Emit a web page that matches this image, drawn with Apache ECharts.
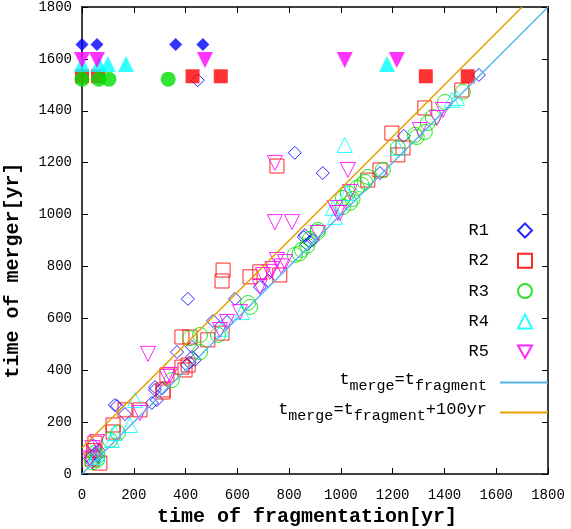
<!DOCTYPE html>
<html><head><meta charset="utf-8">
<script src="https://cdn.jsdelivr.net/npm/echarts@6/dist/echarts.min.js"></script>
<style>html,body{margin:0;padding:0;background:#fff}#c{width:571px;height:529px}</style>
</head><body><div id="c"></div>
<script>
const xTicks = [0,200,400,600,800,1000,1200,1400,1600,1800];
const yTicks = [0,200,400,600,800,1000,1200,1400,1600,1800];
const seriesNames = ['R1','R2','R3','R4','R5'];
const colors = ['#0000ff','#ff0000','#00e000','#00ffff','#ff00ff'];

const r1Open = [[30,60],[40,45],[50,80],[60,70],[65,90],[42,112],[127,266],[135,262],[166,231],[270,274],[282,324],[289,285],[282,335],[310,330],[367,470],[405,420],[415,430],[425,451],[436,440],[409,675],[425,490],[447,1518],[506,590],[560,586],[591,675],[687,721],[720,745],[822,1238],[857,913],[861,921],[869,885],[880,895],[892,902],[930,1160],[1151,1160],[1243,1303],[1533,1538]];
const r2Open = [[39,58],[50,119],[69,42],[45,90],[120,189],[120,162],[166,247],[224,247],[313,324],[313,316],[328,382],[386,528],[417,528],[386,412],[398,401],[410,420],[486,517],[541,543],[541,744],[545,786],[649,760],[687,779],[753,1187],[764,767],[1104,1133],[1151,1172],[1197,1314],[1220,1230],[1240,1257],[1324,1411],[1467,1480]];
const r3Open = [[40,45],[50,81],[58,54],[60,70],[108,131],[139,158],[347,362],[417,524],[456,536],[456,470],[525,536],[641,659],[649,644],[822,844],[840,850],[849,864],[870,880],[880,906],[911,933],[911,941],[1008,1029],[1008,1064],[1027,1083],[1035,1045],[1045,1060],[1062,1103],[1080,1115],[1093,1126],[1104,1145],[1162,1172],[1220,1257],[1286,1307],[1293,1299],[1324,1318],[1336,1353],[1355,1376],[1402,1434],[1471,1473]];
const r4Open = [[50,66],[60,80],[116,131],[127,158],[185,189],[205,285],[540,560],[618,624],[969,1025],[977,991],[1015,1268],[1023,1083],[1220,1257],[1429,1442],[1448,1449]];
const r5Open = [[40,100],[58,123],[30,60],[224,235],[255,463],[328,374],[340,382],[533,555],[560,586],[610,624],[687,721],[699,767],[726,779],[735,790],[745,971],[745,1199],[753,825],[770,800],[784,817],[811,971],[911,929],[977,1025],[988,1006],[996,1006],[1027,1172],[1035,1087],[1305,1326],[1371,1372],[1394,1403]];

const r1Filled = [[0,1655],[58,1655],[362,1655],[467,1655]];
const r2Filled = [[0,1533],[62,1533],[427,1533],[536,1533],[1328,1533],[1490,1533]];
const r3Filled = [[0,1522],[65,1522],[104,1522],[333,1522]];
const r4Filled = [[0,1580],[65,1580],[100,1580],[170,1580],[1178,1580]];
const r5Filled = [[0,1596],[58,1596],[475,1596],[1015,1596],[1216,1596]];

const lineEqual = [[0,0],[1800,1800]];
const linePlus100 = [[0,100],[1700,1800]];
const lineNames = ['t_merge=t_fragment','t_merge=t_fragment+100yr'];

const FONT = '"Liberation Mono", "DejaVu Sans Mono", monospace';
const downTri = 'path://M0,0L10,0L5,9Z';
const symbols = ['diamond','rect','circle','triangle',downTri];
const openSizes = [13,14,15,15,15];
const filledSizes = [13,14,15,16,16];
const openData = [r1Open,r2Open,r3Open,r4Open,r5Open];
const filledData = [r1Filled,r2Filled,r3Filled,r4Filled,r5Filled];

const series = [];
for (let i=0;i<5;i++){
  series.push({type:'scatter',name:seriesNames[i],data:openData[i],symbol:symbols[i],symbolSize:openSizes[i],clip:false,
    itemStyle:{color:'rgba(255,255,255,0)',borderColor:colors[i],borderWidth:1,opacity:0.85}});
}
for (let i=0;i<5;i++){
  series.push({type:'scatter',name:seriesNames[i],data:filledData[i],symbol:symbols[i],symbolSize:filledSizes[i],clip:false,
    itemStyle:{color:colors[i],borderWidth:0}});
}
series.push({type:'line',name:lineNames[0],data:lineEqual,symbol:'none',lineStyle:{color:'#56b4e9',width:1.5},itemStyle:{color:'#56b4e9'},z:5});
series.push({type:'line',name:lineNames[1],data:linePlus100,symbol:'none',lineStyle:{color:'#e69f00',width:1.5},itemStyle:{color:'#e69f00'},z:5});

const plain = function(v){ return String(v); };
const axisCommon = {
  min:0,max:1800,interval:200,
  axisLine:{show:true,onZero:false,lineStyle:{color:'#000',width:1.5}},
  axisTick:{show:true,inside:true,length:6,lineStyle:{color:'#000',width:1}},
  splitLine:{show:false}
};
const rich = {
  a:{fontFamily:FONT,fontSize:17,color:'#000',padding:[0,0,6,0],verticalAlign:'bottom'},
  b:{fontFamily:FONT,fontSize:15,color:'#000',padding:[6,0,0,0],verticalAlign:'bottom'},
  e:{fontFamily:FONT,fontSize:15,color:'#000',padding:[6,8,0,0],verticalAlign:'bottom'},
  ae:{fontFamily:FONT,fontSize:17,color:'#000',padding:[0,8,6,0],verticalAlign:'bottom'}
};
const lineFmt = function(name){
  if (name===lineNames[0]) return '{a|t}{b|merge}{a|=t}{e|fragment}';
  return '{a|t}{b|merge}{a|=t}{b|fragment}{ae|+100yr}';
};

const option = {
  animation:false,
  backgroundColor:'#fff',
  grid:{left:82,right:23,top:7,bottom:55,containLabel:false,outerBoundsMode:'none'},
  xAxis:[
    Object.assign({},axisCommon,{type:'value',position:'bottom',name:'time of fragmentation[yr]',nameLocation:'middle',nameGap:32,
      nameTextStyle:{fontFamily:FONT,fontSize:20,fontWeight:'bold',color:'#000',padding:[0,16,0,0]},
      axisLabel:{fontFamily:FONT,fontSize:14,color:'#000',margin:14,formatter:plain,showMaxLabel:true}}),
    Object.assign({},axisCommon,{type:'value',position:'top',axisLabel:{show:false}})
  ],
  yAxis:[
    Object.assign({},axisCommon,{type:'value',position:'left',name:'time of merger[yr]',nameLocation:'middle',nameGap:59,
      nameTextStyle:{fontFamily:FONT,fontSize:20,fontWeight:'bold',color:'#000',padding:[0,60,0,0]},
      axisLabel:{fontFamily:FONT,fontSize:14,color:'#000',margin:10,formatter:plain,showMaxLabel:true}}),
    Object.assign({},axisCommon,{type:'value',position:'right',axisLabel:{show:false}})
  ],
  legend:[
    {data:seriesNames,orient:'vertical',align:'right',right:33,top:217,itemWidth:14,itemHeight:14,itemGap:13.3,
      textStyle:{fontFamily:FONT,fontSize:17,color:'#000',padding:[0,24,0,0]},inactiveColor:'#ccc'},
    {data:[{name:lineNames[0],icon:'rect'}],orient:'vertical',align:'right',right:18,top:366,itemWidth:48,itemHeight:2,
      formatter:lineFmt,textStyle:{rich:rich}},
    {data:[{name:lineNames[1],icon:'rect'}],orient:'vertical',align:'right',right:18,top:396,itemWidth:48,itemHeight:2,
      formatter:lineFmt,textStyle:{rich:rich}}
  ],
  series:series
};
const chart = echarts.init(document.getElementById('c'),null,{renderer:'canvas'});
chart.setOption(option);
</script>
</body></html>
